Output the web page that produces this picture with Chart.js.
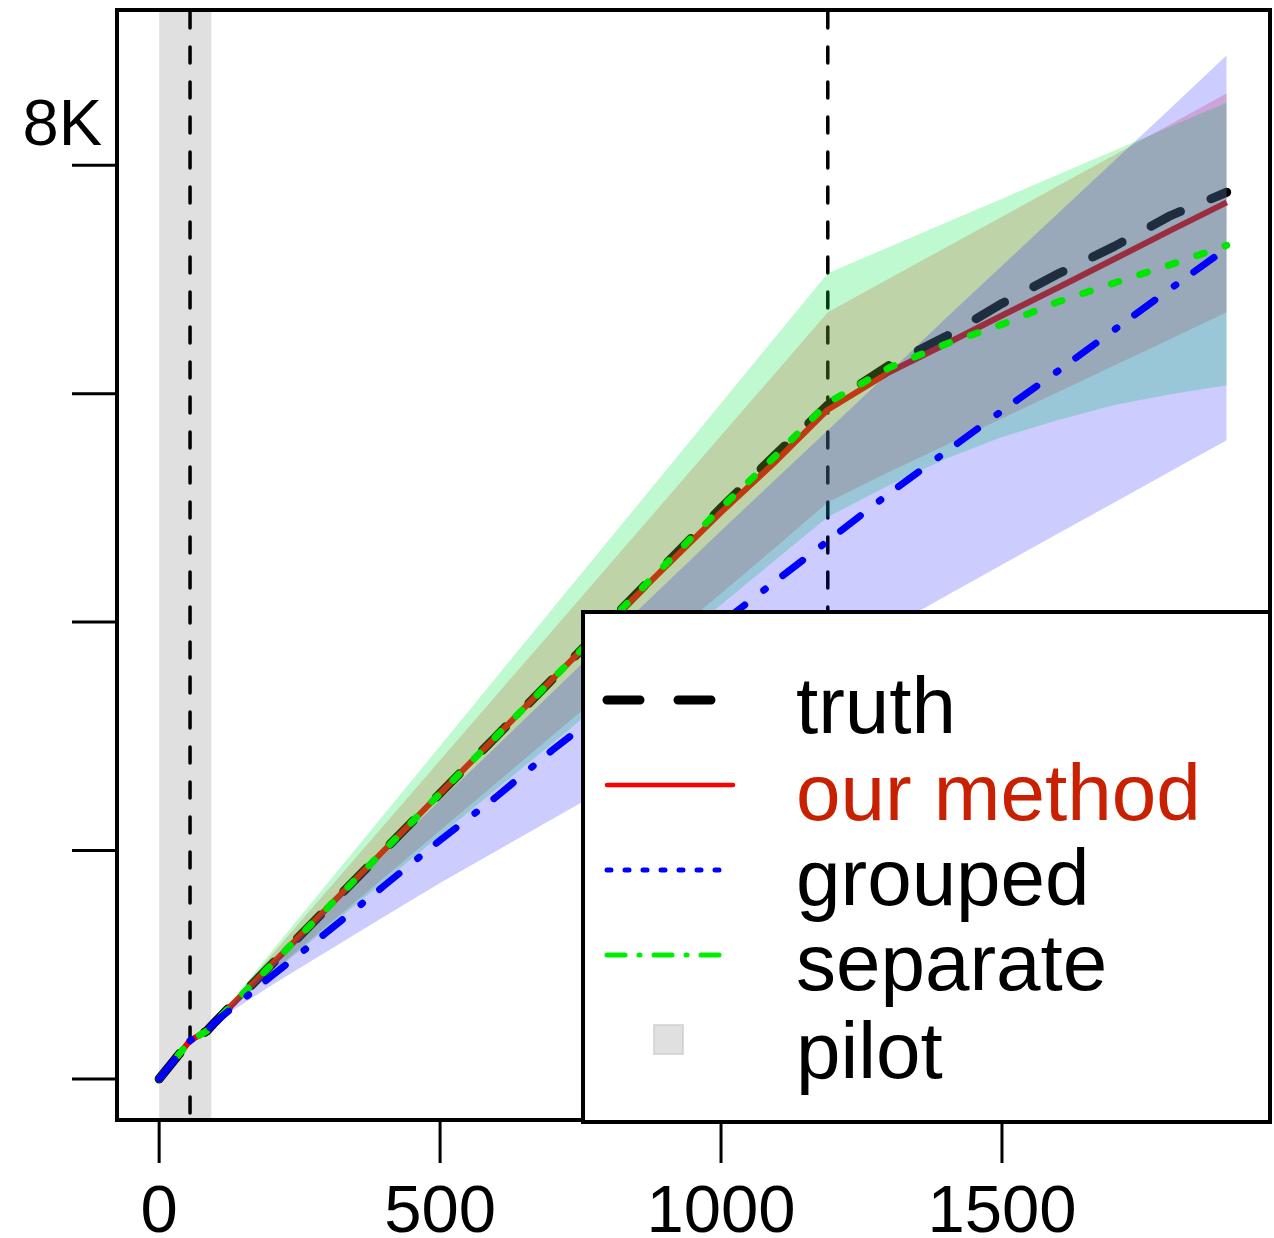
<!DOCTYPE html>
<html>
<head>
<meta charset="utf-8">
<script src="https://cdn.jsdelivr.net/npm/chart.js@4/dist/chart.umd.min.js"></script>
<style>
  html, body { margin: 0; padding: 0; background: #fff; }
  #wrap { width: 1274px; height: 1238px; }
</style>
</head>
<body>
<div id="wrap"><canvas id="chart" width="1274" height="1238"></canvas></div>
<script>
// x positions of the method curves
const lineX = [0, 55, 85, 100, 200, 300, 400, 500, 600, 700, 800, 900, 1000, 1100, 1190, 1300, 1400, 1500, 1600, 1700, 1800, 1900];
const truth    = [0, 335, 420, 500, 1000, 1500, 2000, 2500, 3000, 3500, 4000, 4500, 5000, 5480, 5900, 6250, 6500, 6790, 7050, 7290, 7560, 7764];
const ours     = [0, 335, 420, 500, 1000, 1500, 2000, 2500, 3000, 3500, 3990, 4480, 4960, 5420, 5860, 6190, 6435, 6685, 6930, 7180, 7430, 7676];
const separate = [0, 335, 420, 500, 1000, 1500, 2000, 2500, 3000, 3500, 4000, 4500, 5000, 5470, 5920, 6230, 6435, 6607, 6805, 6970, 7130, 7300];
const grouped  = [0, 335, 420, 500, 900, 1290, 1690, 2090, 2470, 2880, 3260, 3620, 3990, 4370, 4710, 5130, 5490, 5850, 6200, 6560, 6920, 7273];

// uncertainty bands (after the pilot)
const bandX  = [100, 200, 300, 400, 500, 600, 700, 800, 900, 1000, 1100, 1190, 1300, 1400, 1500, 1600, 1700, 1800, 1900];
const oursLo = [500, 930, 1346, 1761, 2176, 2591, 3006, 3421, 3836, 4251, 4666, 5050, 5316, 5549, 5782, 6015, 6248, 6480, 6713];
const oursHi = [500, 1085, 1653, 2222, 2790, 3359, 3927, 4496, 5064, 5633, 6201, 6713, 7010, 7280, 7550, 7820, 8090, 8360, 8630];
const sepLo  = [500, 920, 1324, 1728, 2132, 2536, 2940, 3344, 3748, 4152, 4556, 4920, 5200, 5430, 5620, 5770, 5900, 5995, 6074];
const sepHi  = [500, 1116, 1716, 2316, 2916, 3516, 4116, 4716, 5316, 5916, 6516, 7055, 7287, 7497, 7708, 7919, 8130, 8340, 8551];
const grpLo  = [500, 820, 1120, 1420, 1715, 1995, 2275, 2555, 2835, 3110, 3390, 3640, 3950, 4229, 4502, 4775, 5048, 5320, 5593];
const grpHi  = [500, 1000, 1480, 1960, 2440, 2910, 3385, 3860, 4330, 4800, 5265, 5680, 6190, 6660, 7120, 7580, 8040, 8500, 8963];

const pilotRange = [0, 93];
const refLines = [55, 1190];
const xTicks = [0, 500, 1000, 1500];
const xTickLabels = ['0', '500', '1000', '1500'];
const yTicks = [0, 2000, 4000, 6000, 8000];
const yTickLabels = ['', '', '', '', '8K'];
const legendNames = ['truth', 'our method', 'grouped', 'separate', 'pilot'];

const FONT = '"Liberation Sans", Arial, Helvetica, sans-serif';
const pts = (xs, ys) => xs.map((x, i) => ({ x, y: ys[i] }));

const hidden = 'rgba(0,0,0,0)';
const band = (data, order) => ({
    data, order, borderColor: hidden, borderWidth: 0, pointRadius: 0, fill: false,
});

const frame = {
    id: 'frame',
    beforeDatasetsDraw(chart) {
        const { ctx, chartArea: a, scales: { x } } = chart;
        ctx.save();
        const p0 = x.getPixelForValue(pilotRange[0]);
        const p1 = x.getPixelForValue(pilotRange[1]);
        ctx.fillStyle = '#e0e0e0';
        ctx.fillRect(p0, a.top, p1 - p0, a.bottom - a.top);

        ctx.strokeStyle = '#000';
        ctx.lineWidth = 3.5;
        ctx.lineCap = 'round';
        ctx.setLineDash([16, 19]);
        refLines.forEach((v) => {
            const px = x.getPixelForValue(v);
            ctx.beginPath();
            ctx.moveTo(px, a.top + 2);
            ctx.lineTo(px, a.bottom);
            ctx.stroke();
        });
        ctx.restore();
    },
    afterDraw(chart) {
        const { ctx, chartArea: a, scales: { x, y } } = chart;
        ctx.save();
        // plot box
        ctx.strokeStyle = '#000';
        ctx.lineWidth = 4;
        ctx.strokeRect(a.left, a.top, a.right - a.left, a.bottom - a.top);

        // ticks
        ctx.lineWidth = 3;
        yTicks.forEach((v) => {
            const py = y.getPixelForValue(v);
            ctx.beginPath();
            ctx.moveTo(a.left - 45, py);
            ctx.lineTo(a.left, py);
            ctx.stroke();
        });
        xTicks.forEach((v) => {
            const px = x.getPixelForValue(v);
            ctx.beginPath();
            ctx.moveTo(px, a.bottom);
            ctx.lineTo(px, a.bottom + 43);
            ctx.stroke();
        });

        // tick labels
        ctx.fillStyle = '#000';
        ctx.textAlign = 'center';
        ctx.textBaseline = 'alphabetic';
        ctx.font = `67px ${FONT}`;
        xTicks.forEach((v, i) => {
            ctx.fillText(xTickLabels[i], x.getPixelForValue(v), a.bottom + 112);
        });
        ctx.textAlign = 'right';
        ctx.font = `65px ${FONT}`;
        yTicks.forEach((v, i) => {
            if (yTickLabels[i]) ctx.fillText(yTickLabels[i], a.left - 15, y.getPixelForValue(v) - 20);
        });

        // legend
        const L = { left: 583, top: 612, right: a.right, bottom: a.bottom + 2 };
        ctx.fillStyle = '#fff';
        ctx.fillRect(L.left, L.top, L.right - L.left, L.bottom - L.top);
        ctx.strokeStyle = '#000';
        ctx.lineWidth = 4;
        ctx.strokeRect(L.left, L.top, L.right - L.left, L.bottom - L.top);

        const rowY = [700, 785, 870, 955, 1039];
        const baseY = [733, 820, 905, 990, 1078];
        const samples = [
            { color: '#000', width: 9, dash: [33, 38] },
            { color: '#ff0000', width: 4.5, dash: [] },
            { color: '#0000ff', width: 5, dash: [4, 14] },
            { color: '#00ee00', width: 5, dash: [18, 14, 1, 14] },
        ];
        ctx.lineCap = 'round';
        samples.forEach((s, i) => {
            ctx.strokeStyle = s.color;
            ctx.lineWidth = s.width;
            ctx.setLineDash(s.dash);
            ctx.beginPath();
            ctx.moveTo(607, rowY[i]);
            ctx.lineTo(i === 0 ? 714 : 733, rowY[i]);
            ctx.stroke();
        });
        ctx.setLineDash([]);
        ctx.fillStyle = '#e0e0e0';
        ctx.fillRect(654, 1025, 29, 29);
        ctx.strokeStyle = '#cfcfcf';
        ctx.lineWidth = 1.5;
        ctx.strokeRect(654, 1025, 29, 29);

        ctx.textAlign = 'left';
        ctx.font = `80px ${FONT}`;
        legendNames.forEach((name, i) => {
            ctx.fillStyle = i === 1 ? '#c82000' : '#000';
            ctx.fillText(name, 796, baseY[i]);
        });
        ctx.restore();
    },
};

new Chart(document.getElementById('chart'), {
    type: 'line',
    data: {
        datasets: [
            {
                label: 'truth', data: pts(lineX, truth), order: 10,
                borderColor: '#000', borderWidth: 9, borderDash: [33, 33],
                borderCapStyle: 'round', borderJoinStyle: 'round', pointRadius: 0, fill: false,
            },
            {
                label: 'our method', data: pts(lineX, ours), order: 9,
                borderColor: '#ff0000', borderWidth: 6,
                borderJoinStyle: 'round', pointRadius: 0, fill: false,
            },
            band(pts(bandX, oursLo), 8),
            { ...band(pts(bandX, oursHi), 8), fill: { target: 2 }, backgroundColor: 'rgba(255,0,0,0.2)' },
            band(pts(bandX, sepLo), 7),
            { ...band(pts(bandX, sepHi), 7), fill: { target: 4 }, backgroundColor: 'rgba(0,230,65,0.25)' },
            band(pts(bandX, grpLo), 6),
            { ...band(pts(bandX, grpHi), 6), fill: { target: 6 }, backgroundColor: 'rgba(0,0,255,0.2)' },
            {
                label: 'separate', data: pts(lineX, separate), order: 2,
                borderColor: '#00e600', borderWidth: 7, borderDash: [8, 22],
                borderCapStyle: 'round', pointRadius: 0, fill: false,
            },
            {
                label: 'grouped', data: pts(lineX, grouped), order: 1,
                borderColor: '#0000ff', borderWidth: 7, borderDash: [25, 24, 2, 22],
                borderCapStyle: 'round', pointRadius: 0, fill: false,
            },
        ],
    },
    options: {
        responsive: false,
        devicePixelRatio: 1,
        animation: false,
        layout: { padding: { left: 117, top: 10, right: 4, bottom: 118 } },
        elements: { line: { tension: 0 } },
        plugins: {
            legend: { display: false },
            tooltip: { enabled: false },
        },
        scales: {
            x: { type: 'linear', display: false, min: -75, max: 1977 },
            y: { type: 'linear', display: false, min: -360, max: 9360 },
        },
    },
    plugins: [frame],
});
</script>
</body>
</html>
